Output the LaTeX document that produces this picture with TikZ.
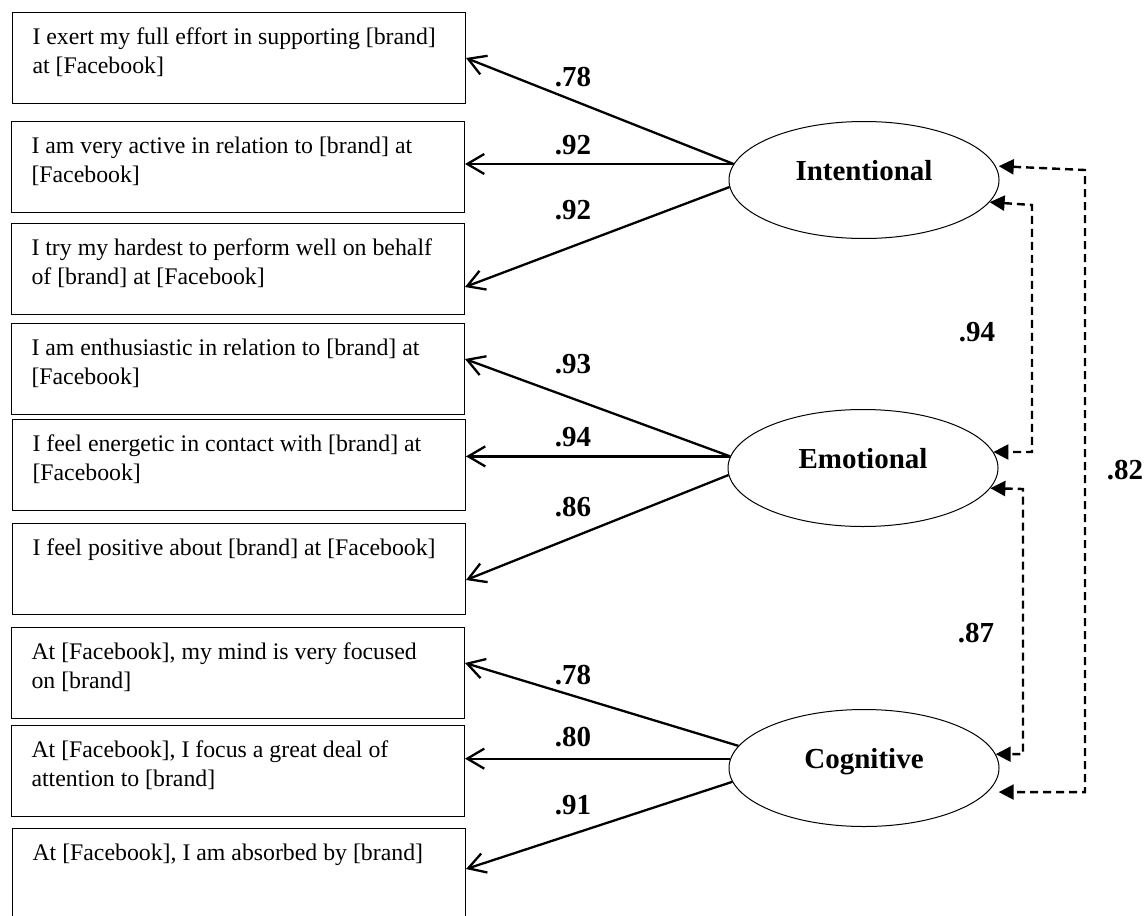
\documentclass[tikz,border=0pt]{standalone}
\usepackage{fontspec}
\setmainfont{Liberation Serif}
\usetikzlibrary{arrows.meta,shapes.geometric}

\begin{document}
\begin{tikzpicture}[x=1pt,y=-1pt,
        item/.style={draw,line width=1pt,anchor=north west,align=flush left,text width=413pt,
            inner xsep=20pt,inner ysep=0pt,text height=32pt,text depth=59pt,
            font=\fontsize{23.8}{29}\selectfont},
        factor/.style={draw,ellipse,line width=1pt,minimum width=270pt,minimum height=117pt,
            inner sep=0pt,text height=20pt,text depth=20pt,font=\fontsize{29}{34}\selectfont\bfseries},
        load/.style={line width=2.3pt,-{Straight Barb[length=17pt,width=20pt]}},
        corr/.style={line width=2.4pt,dash pattern=on 8pt off 5pt,
            {Triangle[length=15pt,width=15pt]}-{Triangle[length=15pt,width=15pt]}},
        coef/.style={font=\fontsize{29}{34}\selectfont\bfseries}]
        \useasboundingbox (0,0) rectangle (1147,915);
        \node[item] (b1) at (12,12) {I exert my full effort in supporting [brand]\\at [Facebook]};
        \node[item] (b2) at (11,121) {I am very active in relation to [brand] at\\\relax[Facebook]};
        \node[item] (b3) at (11,223) {I try my hardest to perform well on behalf\\of [brand] at [Facebook]};
        \node[item] (b4) at (11,323) {I am enthusiastic in relation to [brand] at\\\relax[Facebook]};
        \node[item] (b5) at (12,419) {I feel energetic in contact with [brand] at\\\relax[Facebook]};
        \node[item] (b6) at (12,523) {I feel positive about [brand] at [Facebook]};
        \node[item] (b7) at (11,627) {At [Facebook], my mind is very focused\\on [brand]};
        \node[item] (b8) at (11,725) {At [Facebook], I focus a great deal of\\attention to [brand]};
        \node[item] (b9) at (12,828) {At [Facebook], I am absorbed by [brand]};
        \node[factor] (int) at (864,180) {Intentional};
        \node[factor] (emo) at (863,468) {Emotional};
        \node[factor] (cog) at (864,768) {Cognitive};
        \draw[load] (int.173) -- (b1.east);
        \draw[load] (int.173) -- (int.173 -| b2.east);
        \draw[load] (int.183) -- ([yshift=-18pt]b3.east);
        \draw[load] (emo.175) -- ([yshift=10pt]b4.east);
        \draw[load] (emo.175) -- (emo.175 -| b5.east);
        \draw[load] (emo.183) -- ([yshift=-11pt]b6.east);
        \draw[load] (cog.170) -- ([yshift=10pt]b7.east);
        \draw[load] (cog.176) -- (cog.176 -| b8.east);
        \draw[load] (cog.186) -- ([yshift=5pt]b9.east);
        \node[coef] (c1) at (573,77) {.78};
        \node[coef] (c2) at (573,145) {.92};
        \node[coef] (c3) at (573,210) {.92};
        \node[coef] (c4) at (573,364) {.93};
        \node[coef] (c5) at (573,437) {.94};
        \node[coef] (c6) at (573,507) {.86};
        \node[coef] (c7) at (573,675) {.78};
        \node[coef] (c8) at (573,737) {.80};
        \node[coef] (c9) at (573,805) {.91};
        \draw[corr] (int.350) -- (1032,205) |- (emo.7);
        \draw[corr] (emo.351) -- (1023,489) |- (cog.6);
        \draw[corr] ([xshift=3pt]int.6) -- (1085,170) |- ([xshift=11pt]cog.349);
        \node[coef] (r1) at (977,332) {.94};
        \node[coef] (r2) at (976,633) {.87};
        \node[coef] (r3) at (1125,470) {.82};
    \end{tikzpicture}
\end{document}
